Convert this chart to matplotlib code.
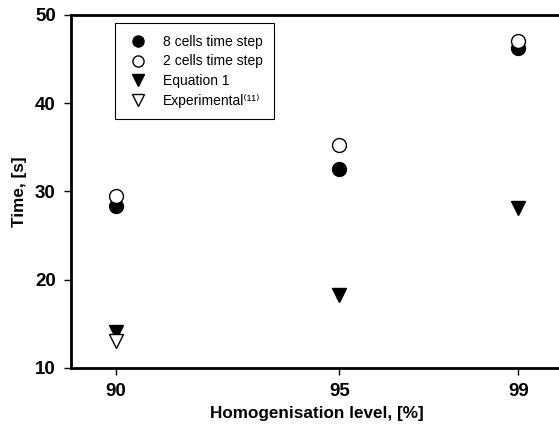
import numpy as np
import matplotlib.pyplot as plt

plt.rcParams['font.family'] = ['Liberation Sans', 'DejaVu Sans']

# data
level = [90, 95, 99]
cells8 = [28.4, 32.6, 46.3]
cells2 = [29.5, 35.3, 47.0]
equation1 = [14.1, 18.3, 28.1]
exp_level = [90]
experimental = [13.1]

fig = plt.figure(figsize=(5.59, 4.34), dpi=100)
ax = fig.add_axes([71/559, 66/434, 492/559, 353/434])

ax.plot(level, cells8, 'o', color='black', markersize=10, label='8 cells time step')
ax.plot(level, cells2, 'o', markerfacecolor='white', markeredgecolor='black', markersize=10, label='2 cells time step')
ax.plot(level, equation1, 'v', color='black', markersize=10, label='Equation 1')
ax.plot(exp_level, experimental, 'v', markerfacecolor='white', markeredgecolor='black', markersize=10,
        label='Experimental⁽¹¹⁾')

ax.set_xlim(89, 100)
ax.set_ylim(10, 50)
ax.set_xticks(level)
ax.set_yticks([10, 20, 30, 40, 50])
ax.tick_params(direction='out', length=5, width=1, labelsize=13.5, pad=6)
for lab in ax.get_xticklabels() + ax.get_yticklabels():
    lab.set_fontweight('bold')
for s in ['left', 'bottom', 'top']:
    ax.spines[s].set_linewidth(2)
ax.spines['right'].set_visible(False)

ax.set_xlabel('Homogenisation level, [%]', fontsize=12.3, fontweight='bold', labelpad=4)
ax.set_ylabel('Time, [s]', fontsize=12.3, fontweight='bold', labelpad=6)

leg = ax.legend(loc='upper left', bbox_to_anchor=(0.089, 0.977), borderaxespad=0, fontsize=10,
                frameon=True, fancybox=False, edgecolor='black', framealpha=1, markerscale=0.8,
                handletextpad=1.0, borderpad=0.85, labelspacing=0.4, handlelength=1.6)
leg.get_frame().set_linewidth(0.8)

plt.savefig('out.png')
